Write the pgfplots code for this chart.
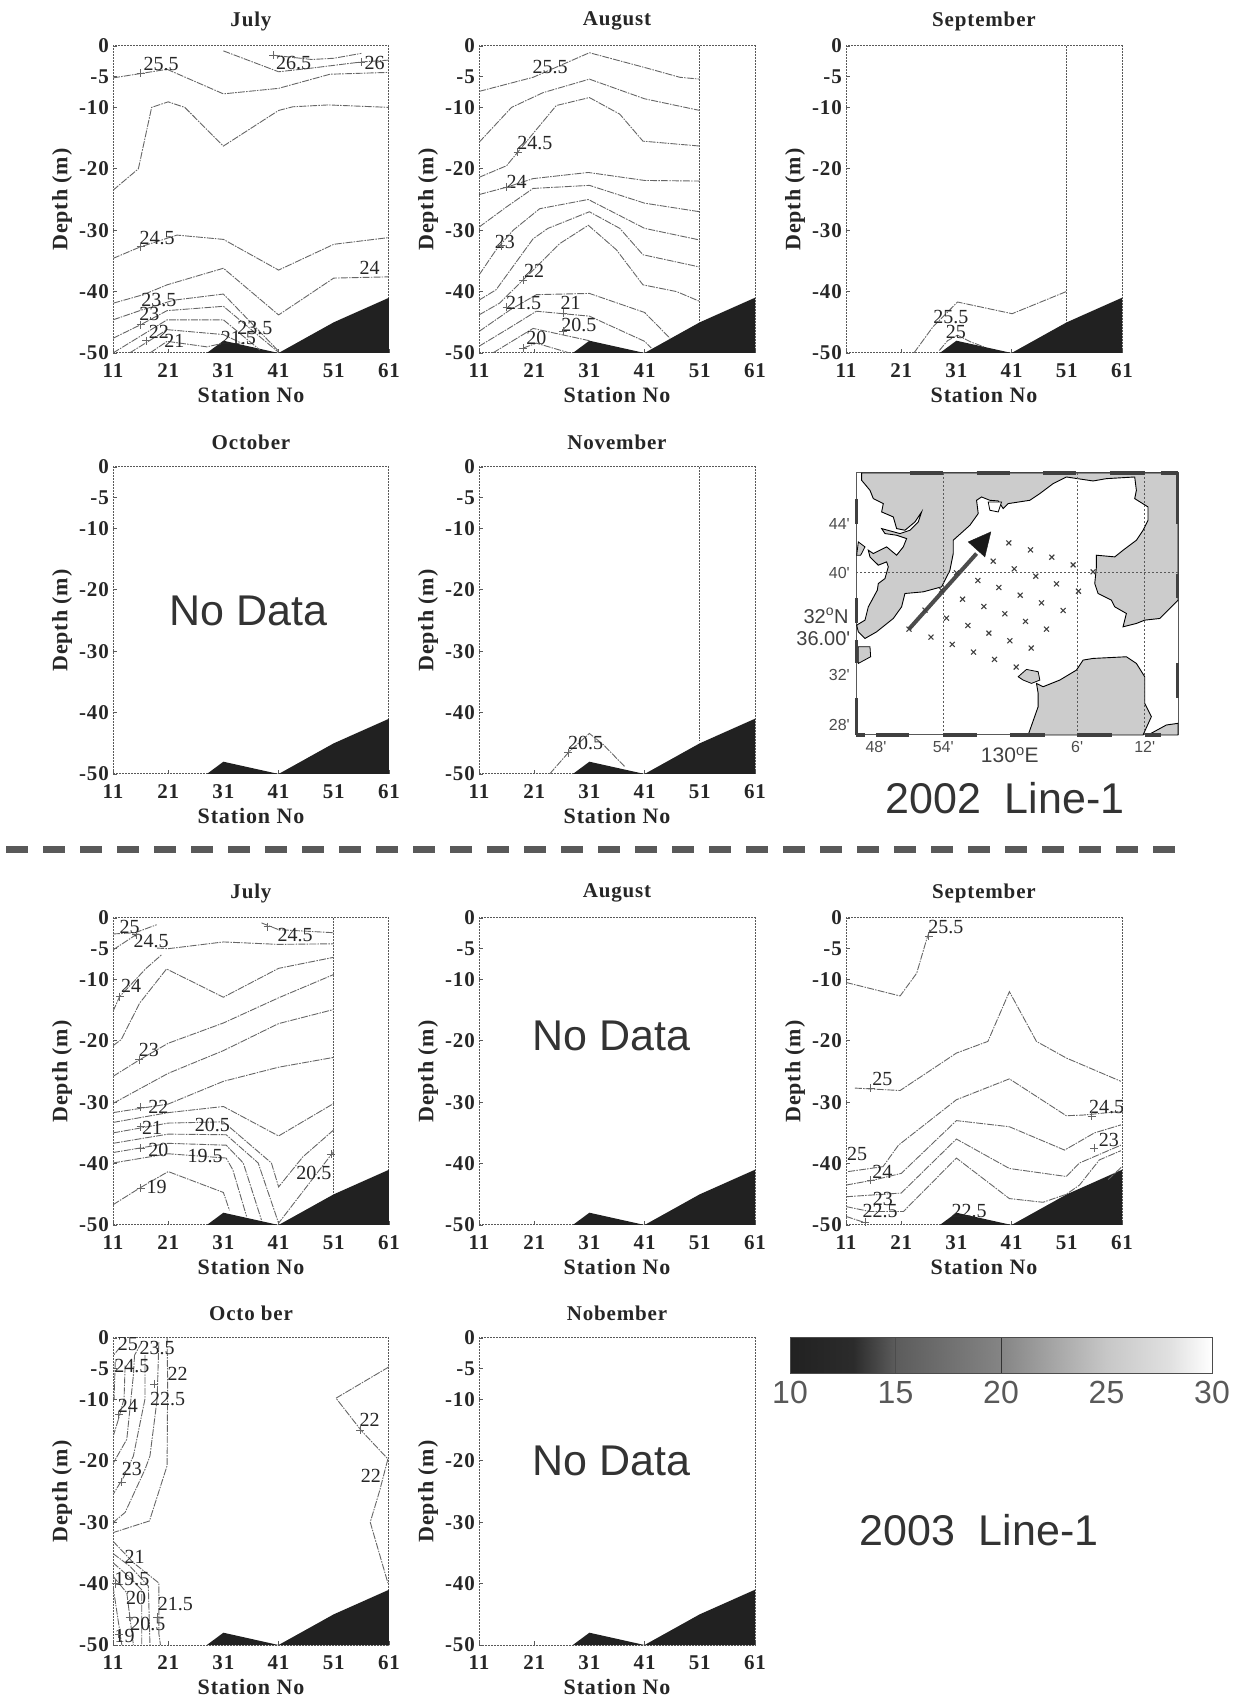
\documentclass[border=0pt]{standalone}
\usepackage{pgfplots}
\pgfplotsset{compat=1.18}
\usepackage{fontspec}
\setmainfont{Liberation Serif}
\newfontfamily\boldsp[LetterSpace=4.0]{Liberation Serif}
\newfontfamily\sansf{Liberation Sans}
\definecolor{lin}{gray}{0.40}
\definecolor{frm}{gray}{0.35}
\definecolor{txt}{gray}{0.15}
\definecolor{dark}{gray}{0.13}
\definecolor{land}{gray}{0.80}
\newcommand\ct[1]{\addplot[lin,line width=0.9pt,mark=none,dash pattern=on 7pt off 1.2pt on 1.5pt off 1.2pt] coordinates {#1};}
\newcommand\vl[1]{\addplot[frm,line width=1pt,mark=none,dash pattern=on 2pt off 1pt] coordinates {#1};}
\newcommand\lb[3]{\node[font=\fontsize{20}{22}\selectfont,text=txt,inner sep=0pt] at (axis cs:#1,#2) {#3};}
\newcommand\plus[1]{\addplot[only marks,mark=+,mark size=4pt,lin,line width=0.8pt] coordinates {#1};}
\newcommand\terrain{\addplot[fill=dark,draw=none,mark=none] coordinates {(28,-50)(31,-48)(41,-50)(51,-45)(61,-41)(61,-50)} -- cycle;}
\newcommand\nodata[2]{\node[font=\sansf\fontsize{43}{46}\selectfont,text=black!80,inner sep=0pt] at (axis cs:#1,#2) {No Data};}
\pgfplotsset{panel/.style={
  scale only axis,width=276pt,height=307pt,anchor=south west,
  xmin=11,xmax=61,ymin=-50,ymax=0,
  xtick={11,21,31,41,51,61},xticklabels={11,21,31,41,51,61},
  ytick={-50,-40,-30,-20,-10,-5,0},yticklabels={-50,-40,-30,-20,-10,-5,0},
  tick align=inside,major tick length=4pt,tick pos=left,
  tick style={frm,line width=0.8pt},
  axis line style={frm,line width=1pt,dash pattern=on 2pt off 1pt},
  tick label style={font=\boldsp\bfseries\fontsize{21}{24}\selectfont,text=txt},
  xticklabel style={inner sep=0pt,yshift=-10pt},
  yticklabel style={inner sep=0pt,xshift=-4pt},
  xlabel={Station No},ylabel={Depth (m)},
  every axis x label/.style={at={(axis description cs:0.5,0)},anchor=center,yshift=-42pt,font=\boldsp\bfseries\fontsize{22}{24}\selectfont,text=txt},
  every axis y label/.style={at={(axis description cs:0,0.5)},anchor=center,rotate=90,yshift=51pt,font=\boldsp\bfseries\fontsize{22}{24}\selectfont,text=txt},
  title style={font=\boldsp\bfseries\fontsize{21}{24}\selectfont,text=txt,at={(axis description cs:0.5,1)},anchor=center,yshift=19pt},
}}
\begin{document}
\begin{tikzpicture}
\useasboundingbox (0pt,0pt) rectangle (1234pt,1698pt);

% ---- 2002 July
\begin{axis}[panel,at={(113pt,1345pt)},title={July}]
\terrain
\ct{(40,-1.5)(47,-2.2)(51,-2)(56,-1.2)}
\ct{(31,-0.8)(41,-4.2)(47,-3.6)(56,-2.6)(61,-2.3)}
\ct{(11,-5.2)(20.8,-3.8)(31,-7.8)(41,-6.9)(50.3,-4.6)(61,-4.3)}
\ct{(11,-23.5)(15.6,-20)(18,-10)(21,-9.1)(24,-10)(31,-16.3)(41,-10.5)(43.6,-9.9)(50,-9.6)(61,-10)}
\ct{(11,-34.6)(16,-32.7)(22.6,-30.8)(31,-31.5)(41,-36.5)(51,-32.3)(61,-31.2)}
\ct{(11,-41.9)(16.5,-40.5)(20.8,-38.9)(31,-36.2)(41,-43.8)(51,-37.8)(61,-37.6)}
\ct{(11,-44.6)(16.2,-43)(22,-41.4)(31,-40.4)(41,-49.7)}
\ct{(11,-47.6)(16,-45.4)(20.8,-43.1)(31,-42.4)(41,-49.9)}
\ct{(11,-50)(20.8,-44.6)(31,-44.6)(37.6,-49.5)}
\ct{(14,-50)(20.8,-46.2)(31,-47)(34.5,-48.5)}
\ct{(17.7,-50)(20.8,-48.1)(28,-49)(31,-48.4)}
\plus{(40,-1.5)(56,-2.6)(16,-32.7)(16,-45.4)(17,-48)(16,-4.4)}
\lb{19.7}{-3}{25.5}\lb{43.7}{-2.7}{26.5}\lb{58.4}{-2.8}{26}\lb{19}{-31.2}{24.5}\lb{57.5}{-36.1}{24}
\lb{19.3}{-41.4}{23.5}\lb{17.6}{-43.6}{23}\lb{19.3}{-46.5}{22}\lb{22.1}{-48.1}{21}\lb{36.7}{-45.9}{23.5}\lb{33.7}{-47.6}{21.5}
\end{axis}

% ---- 2002 August
\begin{axis}[panel,at={(479pt,1345pt)},title={August}]
\terrain
\vl{(51,0)(51,-45)}
\ct{(11,-7.4)(20.8,-5.1)(31,-1.1)(41,-3.5)(47.4,-5.1)(51,-5.4)}
\ct{(11,-15.7)(16.9,-10)(22.6,-7.6)(31,-5.4)(41,-8.6)(51,-10.5)}
\ct{(11,-21.4)(16,-19.5)(18,-17.3)(25,-9.7)(31,-8.4)(36.5,-11.1)(40.7,-15.5)(51,-16.3)}
\ct{(11,-24.2)(16,-23)(20.8,-21.6)(30.8,-20.6)(41,-21.9)(51,-22)}
\ct{(11,-29.5)(16,-26.2)(20.8,-23.2)(31,-22.7)(41,-25.6)(51,-27)}
\ct{(11,-37.3)(14.1,-33.2)(17.2,-30)(22,-26.5)(30.8,-25)(41,-29.7)(51,-31.6)}
\ct{(11,-41.4)(14.1,-39.7)(20.8,-31.4)(23.5,-29.7)(31,-27)(36.5,-29.7)(40.7,-34)(51,-36)}
\ct{(11,-43.8)(14.7,-41.9)(19,-38.1)(25.6,-32.2)(30.8,-29.2)(35.9,-33.2)(40.7,-38.9)(46.8,-40)(51,-41.6)}
\ct{(11,-46.5)(16.6,-43)(21.4,-40.5)(31,-40.3)(41,-43.4)(45.6,-47.6)}
\ct{(11,-48.9)(16,-46.2)(21.4,-43.2)(31,-44)(41,-48.1)(42.2,-49.2)}
\ct{(13.5,-50)(20.8,-46)(31,-48)}
\ct{(19,-49.2)(21.4,-48.4)(27.4,-50)}
\plus{(18,-17.3)(15,-32.5)(16,-23)(19,-38.1)(16,-42.5)(26.2,-43.5)(26.2,-46.5)(19,-49.2)}
\lb{23.9}{-3.5}{25.5}\lb{21.1}{-15.8}{24.5}\lb{17.8}{-22.2}{24}\lb{15.7}{-31.9}{23}\lb{21}{-36.6}{22}
\lb{19.1}{-41.9}{21.5}\lb{27.6}{-41.9}{21}\lb{29.1}{-45.4}{20.5}\lb{21.4}{-47.6}{20}
\end{axis}

% ---- 2002 September
\begin{axis}[panel,at={(846pt,1345pt)},title={September}]
\terrain
\vl{(51,0)(51,-45)}
\ct{(23.3,-50)(26.7,-45.8)(31.2,-41.7)(41.1,-43.6)(50.9,-40)}
\ct{(27.9,-49.6)(29.4,-48)(31.2,-47.1)(33.6,-48.2)(36,-49)}
\lb{30}{-44.2}{25.5}\lb{30.9}{-46.5}{25}
\end{axis}

% ---- 2002 October
\begin{axis}[panel,at={(113pt,924pt)},title={October}]
\terrain
\nodata{35.6}{-23.5}
\end{axis}

% ---- 2002 November
\begin{axis}[panel,at={(479pt,924pt)},title={November}]
\terrain
\vl{(51,0)(51,-44.7)}
\ct{(23.8,-50)(27.4,-46.3)(31,-43.4)(33.5,-45.2)(37.4,-48.8)}
\plus{(27.2,-46.5)}
\lb{30.3}{-45}{20.5}
\end{axis}

% ---- 2002 map
\begin{axis}[scale only axis,width=322pt,height=262pt,anchor=south west,at={(856pt,963pt)},
  xmin=198,xmax=1165,ymin=68,ymax=855,y dir=reverse,clip=false,
  xtick={258,460,862,1065},xticklabels={48',54',6',12'},
  ytick={220,368,675,825},yticklabels={44',40',32',28'},
  tick pos=left,major tick length=0pt,
  axis line style={frm,line width=1pt},
  tick label style={font=\sansf\fontsize{16}{18}\selectfont,text=black!70},
  xticklabel style={inner sep=0pt,yshift=-6pt},
  yticklabel style={inner sep=0pt,xshift=-6pt}]
\addplot[fill=land,draw=black,line width=0.9pt,mark=none] coordinates {(215,68)(215,90)(240,120)(250,145)(280,160)(275,185)(310,200)(320,235)(345,240)(375,215)(395,185)(385,215)(360,240)(330,250)(275,235)(285,250)(320,255)(350,265)(340,290)(320,315)(290,290)(270,300)(250,310)(235,300)(240,320)(265,345)(290,335)(295,350)(285,385)(265,400)(262,420)(235,470)(225,510)(200,525)(205,545)(225,565)(260,545)(310,505)(335,470)(345,430)(400,425)(455,410)(480,360)(490,310)(490,270)(540,225)(565,190)(560,150)(575,140)(600,150)(625,152)(640,175)(655,160)(720,150)(750,130)(790,100)(830,80)(910,92)(950,85)(1035,80)(1040,120)(1035,145)(1075,170)(1075,210)(1060,240)(1040,270)(1000,300)(975,320)(920,315)(920,350)(915,400)(925,430)(965,450)(975,470)(1010,490)(1000,530)(1040,520)(1065,510)(1110,505)(1165,450)(1165,68)(215,68)} -- cycle;
\addplot[fill=white,draw=black,line width=0.8pt,mark=none] coordinates {(595,155)(635,155)(625,185)(600,180)} -- cycle;
\addplot[fill=land,draw=black,line width=0.8pt,mark=none] coordinates {(205,590)(240,590)(242,620)(205,640)} -- cycle;
\addplot[fill=land,draw=black,line width=0.8pt,mark=none] coordinates {(205,275)(225,290)(212,315)(200,315)} -- cycle;
\addplot[fill=land,draw=black,line width=0.8pt,mark=none] coordinates {(685,680)(710,658)(745,665)(750,690)(725,700)(700,690)} -- cycle;
\addplot[fill=land,draw=black,line width=0.9pt,mark=none] coordinates {(740,700)(760,710)(810,690)(860,660)(880,630)(910,625)(1010,620)(1040,640)(1065,680)(1065,760)(1085,800)(1060,855)(715,855)(745,770)(745,730)} -- cycle;
\addplot[fill=land,draw=black,line width=0.9pt,mark=none] coordinates {(1075,855)(1130,825)(1165,820)(1165,855)} -- cycle;
\addplot[frm,line width=0.8pt,mark=none,dash pattern=on 2pt off 2pt] coordinates {(460,68)(460,855)};
\addplot[frm,line width=0.8pt,mark=none,dash pattern=on 2pt off 2pt] coordinates {(862,68)(862,855)};
\addplot[frm,line width=0.8pt,mark=none,dash pattern=on 2pt off 2pt] coordinates {(1065,68)(1065,855)};
\addplot[frm,line width=0.8pt,mark=none,dash pattern=on 2pt off 2pt] coordinates {(198,368)(1165,368)};
\newcommand\zb[1]{\addplot[black!75,line width=3.5pt,mark=none] coordinates {#1};}
\zb{(198,855)(225,855)}\zb{(258,855)(358,855)}\zb{(460,855)(560,855)}\zb{(660,855)(765,855)}\zb{(862,855)(968,855)}\zb{(1065,855)(1115,855)}
\zb{(360,68)(460,68)}\zb{(560,68)(660,68)}\zb{(760,68)(860,68)}\zb{(960,68)(1065,68)}\zb{(1115,68)(1165,68)}
\zb{(200,145)(200,220)}\zb{(200,445)(200,520)}\zb{(200,570)(200,640)}\zb{(200,745)(200,855)}
\zb{(1163,68)(1163,220)}\zb{(1163,370)(1163,445)}\zb{(1163,640)(1163,745)}
\addplot[black!70,line width=4pt,mark=none] coordinates {(357,537)(560,310)};
\addplot[fill=black!90,draw=black!90,mark=none] coordinates {(603,245)(535,275)(585,320)} -- cycle;
\addplot[only marks,mark=x,mark size=3.5pt,black!75,line width=1.1pt] coordinates {
(357,537)(423,561)(487,583)(551,606)(614,628)(679,651)
(405,480)(470,504)(534,526)(597,549)(660,572)(724,594)
(455,420)(518,447)(582,469)(645,491)(707,514)(770,537)
(500,368)(564,391)(627,412)(691,435)(755,458)(820,481)
(610,333)(673,356)(738,378)(800,401)(866,423)
(657,278)(722,299)(786,321)(850,344)(910,365)};
\node[font=\sansf\fontsize{20}{22}\selectfont,text=black!75,inner sep=0pt] at (axis cs:108,497) {32\textsuperscript{o}N};
\node[font=\sansf\fontsize{20}{22}\selectfont,text=black!75,inner sep=0pt] at (axis cs:100,565) {36.00'};
\node[font=\sansf\fontsize{21}{23}\selectfont,text=black!75,inner sep=0pt] at (axis cs:660,915) {130\textsuperscript{o}E};
\end{axis}
\node[font=\sansf\fontsize{43}{46}\selectfont,text=black!80,inner sep=0pt] at (1005pt,900pt) {2002\ \ Line-1};

\draw[line width=7pt,black!65,dash pattern=on 22pt off 15pt] (6pt,848pt) -- (1185pt,848pt);

% ---- 2003 July
\begin{axis}[panel,at={(113pt,473pt)},title={July}]
\terrain
\vl{(51,0)(51,-45)}
\ct{(11,-2.6)(15,-2.4)(18.9,-1.1)}
\ct{(11,-5.2)(15.2,-2.7)}
\ct{(19,-4.9)(21,-5)(31,-3.9)(41,-4.3)(51,-4.2)}
\ct{(37.9,-0.8)(41,-1.9)(51,-2.4)}
\ct{(11,-15.2)(12.2,-12.8)(17,-8.2)(19.8,-6)}
\ct{(11,-20.8)(12.5,-19.8)(15.8,-13.9)(20.7,-8.3)(31,-12.9)(41,-8.2)(51,-6.4)}
\ct{(11,-25.8)(15.8,-23.1)(21,-20.4)(31,-17.1)(41,-13)(51,-9.2)}
\ct{(11,-30.2)(21,-25.3)(31,-21.6)(41,-17.2)(51,-14.9)}
\ct{(11,-31.7)(21,-30.3)(31,-26.6)(41,-24.3)(51,-22.7)}
\ct{(11,-33.3)(21,-31.7)(31,-30.7)(41,-35.5)(51,-30.2)}
\ct{(11,-35)(21,-33.4)(31,-33.2)(39.7,-39.9)(41,-43.8)(45.4,-38.9)(51,-34.5)}
\ct{(11,-36.7)(21,-35.2)(31.5,-35.3)(37.3,-39.9)(41,-49.7)(51,-38)}
\ct{(11,-38.2)(21,-36.7)(31.5,-37)(34.6,-39.9)(37.9,-49.2)}
\ct{(11,-39.9)(21,-38.4)(31.5,-39.1)(32.7,-41)(35.2,-48.6)}
\ct{(11,-46.7)(15.8,-44)(21,-41.3)(31,-44.7)(32.1,-47.6)}
\plus{(15.2,-2.7)(39,-1.4)(12.2,-12.8)(15.8,-23.1)(16,-30.8)(16,-34)(16,-37.5)(16,-44)(50.5,-38.5)}
\lb{14}{-1.4}{25}\lb{17.9}{-3.8}{24.5}\lb{44}{-2.7}{24.5}\lb{14.3}{-11.1}{24}\lb{17.5}{-21.5}{23}\lb{19.2}{-30.8}{22}
\lb{18.1}{-34.2}{21}\lb{29}{-33.7}{20.5}\lb{19.2}{-37.8}{20}\lb{27.7}{-38.8}{19.5}\lb{18.9}{-43.8}{19}\lb{47.4}{-41.6}{20.5}
\end{axis}

% ---- 2003 August
\begin{axis}[panel,at={(479pt,473pt)},title={August}]
\terrain
\nodata{35}{-19.2}
\end{axis}

% ---- 2003 September
\begin{axis}[panel,at={(846pt,473pt)},title={September}]
\terrain
\ct{(11,-10.5)(20.8,-12.7)(23.8,-9)(25.6,-3.5)(26.2,-1.9)}
\ct{(12.6,-27.7)(20.8,-28.1)(31,-22)(36.7,-20.1)(40.6,-12)(45.5,-20.1)(50.9,-22.8)(60.8,-26.6)}
\ct{(11.4,-41.3)(17.7,-40.5)(20.5,-37)(31,-29.6)(40.6,-26.2)(50.9,-32.2)(53.9,-32.1)(60.8,-31.5)}
\ct{(11,-43.5)(15.9,-42.7)(21,-41.6)(31,-33)(40.6,-34)(50.6,-37.8)(56,-35)(60.8,-33.7)}
\ct{(11,-45.4)(21,-44.8)(31,-36)(40.6,-40.8)(50.9,-42.1)(53.3,-39.9)(60.8,-37)}
\ct{(11,-47)(15.3,-47.8)(21.4,-47.8)(31,-39.1)(40.6,-45.7)(46.7,-46.3)(50.9,-45)(53.3,-43.5)(56.9,-39.4)(60.8,-37.9)}
\ct{(11,-48.6)(14.7,-49.7)}
\ct{(58.5,-42.6)(61,-40.5)}
\plus{(26,-3)(15.5,-27.7)(15.5,-42.7)(55.5,-32.3)(56,-37.5)(14.5,-49.5)}
\lb{29.1}{-1.4}{25.5}\lb{17.6}{-26.2}{25}\lb{58.2}{-30.8}{24.5}\lb{13}{-38.4}{25}\lb{17.6}{-41.3}{24}\lb{17.7}{-45.8}{23}\lb{17.2}{-47.7}{22.5}\lb{33.3}{-47.8}{22.5}\lb{58.6}{-36.1}{23}
\end{axis}

% ---- 2003 October
\begin{axis}[panel,at={(113pt,53pt)},title={Octo ber}]
\terrain
\ct{(20.8,0)(20.9,-7.2)(20.8,-20.8)(17.6,-29.8)(11,-31.7)}
\ct{(19.3,-0.7)(19,-9.9)(17.7,-19.2)(16.8,-21.4)(13.2,-28.4)(11.1,-30)}
\ct{(16.8,-2.8)(16.8,-9.9)(14.7,-19.2)(12.9,-22.7)(11,-25.5)}
\ct{(14.9,-2.8)(14.7,-6)(13.5,-16.5)(11.1,-20.3)}
\ct{(13.2,-4.5)(13,-9.9)(12,-13.2)(11.1,-15.8)}
\ct{(11.4,-3.9)(11.2,-9.9)}
\ct{(12.3,-1.5)(11.1,-2.8)}
\ct{(16.2,-0.7)(14.9,-2.8)}
\ct{(11,-33.1)(14.7,-36.6)(19.3,-39.9)(19.3,-48.1)(19.6,-50)}
\ct{(11,-35.1)(14.1,-37.2)(17.4,-40.4)(17.7,-50)}
\ct{(11,-36.6)(13.8,-38.8)(16.2,-41)(16.2,-50)}
\ct{(11,-38.8)(13.5,-41.5)(14.7,-50)}
\ct{(11,-40.4)(12.6,-50)}
\ct{(61,-4.7)(51.4,-9.8)(56,-15.1)(60.8,-19.7)}
\ct{(60.8,-19.7)(59.3,-24.9)(57.6,-30)(60.8,-39.9)}
\plus{(18.5,-7.5)(12,-12.5)(12.6,-23.5)(55.8,-15)(11.5,-40)(14,-45.5)(19,-45.5)(12,-48.2)}
\lb{13.7}{-0.9}{25}\lb{19}{-1.6}{23.5}\lb{14.4}{-4.5}{24.5}\lb{22.7}{-5.8}{22}\lb{20.9}{-10}{22.5}\lb{13.7}{-11}{24}\lb{14.4}{-21.4}{23}
\lb{14.9}{-35.6}{21}\lb{14.4}{-39.3}{19.5}\lb{15.2}{-42.3}{20}\lb{22.3}{-43.3}{21.5}\lb{17.3}{-46.5}{20.5}\lb{13.1}{-48.5}{19}\lb{57.5}{-13.3}{22}\lb{57.7}{-22.5}{22}
\end{axis}

% ---- 2003 November
\begin{axis}[panel,at={(479pt,53pt)},title={Nobember}]
\terrain
\nodata{35}{-20}
\end{axis}

% ---- colour bar
\begin{axis}[scale only axis,width=422pt,height=36pt,anchor=south west,at={(790pt,325pt)},
  xmin=10,xmax=30,ymin=0,ymax=1,ytick=\empty,
  xtick={10,15,20,25,30},xticklabels={10,15,20,25,30},tick pos=left,major tick length=0pt,
  axis line style={black!70,line width=0.8pt},
  tick label style={font=\sansf\fontsize{32}{34}\selectfont,text=black!65,inner sep=0pt},
  xticklabel style={yshift=-8pt},
  colormap={cb}{gray(0cm)=(0.13); gray(3cm)=(0.17); gray(5cm)=(0.36); gray(10cm)=(0.52); gray(15cm)=(0.78); gray(18cm)=(0.88); gray(20cm)=(1)},
  axis on top]
\addplot[patch,patch type=rectangle,shader=interp,point meta=x,mark=none] coordinates {(10,0)(30,0)(30,1)(10,1)};
\addplot[black!80,line width=1pt,mark=none] coordinates {(20,0)(20,1)};
\addplot[black!70,line width=0.6pt,mark=none] coordinates {(15,0)(15,1)};
\end{axis}
\node[font=\sansf\fontsize{43}{46}\selectfont,text=black!80,inner sep=0pt] at (979pt,168pt) {2003\ \ Line-1};
\end{tikzpicture}
\end{document}
